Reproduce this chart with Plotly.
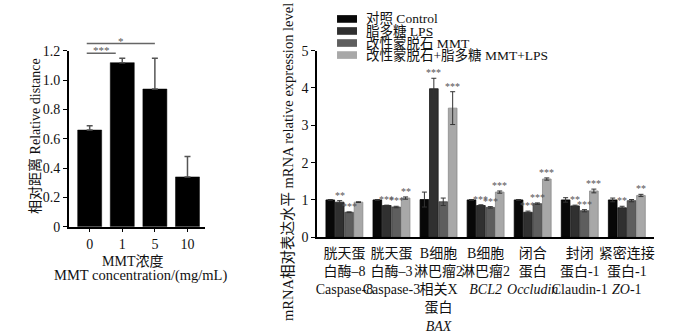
import plotly.graph_objects as go

# ---------------- left panel: relative distance vs. MMT concentration ----------------
conc_labels = ["0", "1", "5", "10"]
rel_distance = [0.66, 1.12, 0.94, 0.34]
rel_distance_err = [0.03, 0.03, 0.21, 0.14]
left_yticks = [0, 0.2, 0.4, 0.6, 0.8, 1.0, 1.2]
left_yticktext = ["0", "0.2", "0.4", "0.6", "0.8", "1.0", "1.2"]

# significance brackets: (start category pos, end category pos, level, label)
left_brackets = [(-0.09, 0.8, 1.185, "***"), (-0.09, 2.0, 1.25, "*")]

# ---------------- right panel: mRNA relative expression ----------------
genes = [
    "胱天蛋<br>白酶–8<br>Caspase-8",
    "胱天蛋<br>白酶–3<br>Caspase-3",
    "B细胞<br>淋巴瘤2<br>相关X<br>蛋白<br><i>BAX</i>",
    "B细胞<br>淋巴瘤2<br><i>BCL2</i>",
    "闭合<br>蛋白<br><i>Occludin</i>",
    "封闭<br>蛋白-1<br>Claudin-1",
    "紧密连接<br>蛋白-1<br><i>ZO</i>-1",
]
series_names = ["对照 Control", "脂多糖 LPS", "改性蒙脱石 MMT", "改性蒙脱石+脂多糖 MMT+LPS"]
control = [1.00, 1.00, 1.01, 1.00, 1.00, 1.00, 1.00]
control_err = [0.01, 0.01, 0.20, 0.01, 0.01, 0.06, 0.05]
lps = [0.94, 0.85, 3.98, 0.85, 0.67, 0.84, 0.79]
lps_err = [0.04, 0.01, 0.28, 0.02, 0.03, 0.02, 0.04]
mmt = [0.67, 0.81, 0.95, 0.80, 0.90, 0.71, 0.98]
mmt_err = [0.01, 0.02, 0.10, 0.02, 0.02, 0.03, 0.03]
mmt_lps = [0.94, 1.05, 3.46, 1.21, 1.56, 1.24, 1.12]
mmt_lps_err = [0.01, 0.03, 0.44, 0.03, 0.03, 0.05, 0.03]
stars_lps = ["**", "***", "***", "***", "***", "**", "**"]
stars_mmt = ["***", "***", "", "***", "***", "***", ""]
stars_mmt_lps = ["", "**", "***", "***", "***", "***", "**"]
right_yticks = [0, 1, 2, 3, 4, 5]

series_values = [control, lps, mmt, mmt_lps]
series_errors = [control_err, lps_err, mmt_err, mmt_lps_err]
series_stars = [None, stars_lps, stars_mmt, stars_mmt_lps]
series_colors = ["#080808", "#303030", "#5e5e5e", "#a8a8a8"]
series_edges = ["#000000", "#1a1a1a", "#404040", "#8a8a8a"]

FONT = "Liberation Serif, Times New Roman, Noto Sans CJK SC, serif"
TXT = "#111111"

W, H = 700, 336
LEFT_X_DOM = [68 / W, 205 / W]
LEFT_Y_DOM = [1 - 230 / H, 1 - 46 / H]
LEFT_Y_RANGE = [0, 1.2]

fig = go.Figure()

fig.add_trace(go.Bar(
    x=conc_labels, y=rel_distance,
    marker=dict(color="#000000", line=dict(color="#000000", width=0.5)),
    error_y=dict(type="data", array=rel_distance_err,
                 arrayminus=[0] * len(rel_distance_err),
                 color="#555555", thickness=1.5, width=3),
    xaxis="x", yaxis="y", showlegend=False,
))

BAR_GAP = 0.2
slot = (1 - BAR_GAP) / len(series_values)
for j, (name, vals, errs) in enumerate(zip(series_names, series_values, series_errors)):
    fig.add_trace(go.Bar(
        x=genes, y=vals, name=name,
        marker=dict(color=series_colors[j], line=dict(color=series_edges[j], width=0.8)),
        error_y=dict(type="data", array=errs, color="#333333", thickness=1, width=2.5),
        xaxis="x2", yaxis="y2", showlegend=False,
    ))

annotations = []
shapes = []


def level_to_paper(v):
    """Map a left-panel y value onto paper coordinates (brackets may sit above the axis top)."""
    frac = (v - LEFT_Y_RANGE[0]) / (LEFT_Y_RANGE[1] - LEFT_Y_RANGE[0])
    return LEFT_Y_DOM[0] + frac * (LEFT_Y_DOM[1] - LEFT_Y_DOM[0])


# significance brackets on the left panel
for x0, x1, level, label in left_brackets:
    yp = level_to_paper(level)
    shapes.append(dict(type="line", xref="x", yref="paper", x0=x0, x1=x1, y0=yp, y1=yp,
                       line=dict(color="#666666", width=1.5)))
    annotations.append(dict(
        x=(x0 + x1) / 2, y=yp, xref="x", yref="paper", text=label, showarrow=False,
        xanchor="center", yanchor="bottom", yshift=-5,
        font=dict(family=FONT, size=11, color="#555555"),
    ))

# significance stars above the right-panel bars
for j, stars in enumerate(series_stars):
    if stars is None:
        continue
    for i, s in enumerate(stars):
        if not s:
            continue
        top = series_values[j][i] + series_errors[j][i]
        annotations.append(dict(
            x=i + (j - 1.5) * slot, y=top, xref="x2", yref="y2", text=s,
            showarrow=False, xanchor="center", yanchor="bottom", yshift=-2,
            font=dict(family=FONT, size=10, color="#555555"),
        ))


def paper_text(px, py, text, angle=0, size=14, anchor="center"):
    return dict(x=px / W, y=1 - py / H, xref="paper", yref="paper", text=text,
                textangle=angle, showarrow=False, xanchor=anchor, yanchor="middle",
                font=dict(family=FONT, size=size, color=TXT))


# axis titles
annotations += [
    paper_text(34, 135, "相对距离 Relative distance", angle=-90),
    paper_text(132, 266, "MMT浓度"),
    paper_text(140, 281, "MMT concentration/(mg/mL)", size=14.5),
    paper_text(288, 162, "mRNA相对表达水平 mRNA relative expression level", angle=-90, size=14.5),
]

# legend block for the right panel
for j, name in enumerate(series_names):
    yc = 12.5 + 12.6 * j
    shapes.append(dict(
        type="rect", xref="paper", yref="paper",
        x0=337 / W, x1=357 / W, y0=1 - (yc + 4) / H, y1=1 - (yc - 4) / H,
        fillcolor=series_colors[j], line=dict(width=0),
    ))
    annotations.append(paper_text(364, yc, name, anchor="left", size=13.5))

axis_common = dict(showgrid=False, zeroline=False, showline=True, linecolor="#000000",
                   linewidth=1.5, ticks="outside", ticklen=4, tickcolor="#000000",
                   tickfont=dict(family=FONT, size=14, color=TXT))

fig.update_layout(
    width=W, height=H,
    margin=dict(l=0, r=0, t=0, b=0),
    paper_bgcolor="white", plot_bgcolor="white",
    barmode="group", bargap=BAR_GAP, bargroupgap=0.08,
    xaxis=dict(**axis_common, domain=LEFT_X_DOM, anchor="y",
               type="category", range=[-0.64, 3.55]),
    yaxis=dict(**axis_common, domain=LEFT_Y_DOM, anchor="x",
               range=LEFT_Y_RANGE, tickvals=left_yticks, ticktext=left_yticktext),
    xaxis2=dict(**{**axis_common, "ticks": ""},
                domain=[317 / W, 655 / W], anchor="y2", type="category",
                range=[-0.58, 6.58], tickangle=0, ticklabelstandoff=2),
    yaxis2=dict(**axis_common, domain=[1 - 241 / H, 1 - 45.7 / H], anchor="x2",
                range=[0, 5], tickvals=right_yticks),
    annotations=annotations,
    shapes=shapes,
)

fig.write_html("out.html")
